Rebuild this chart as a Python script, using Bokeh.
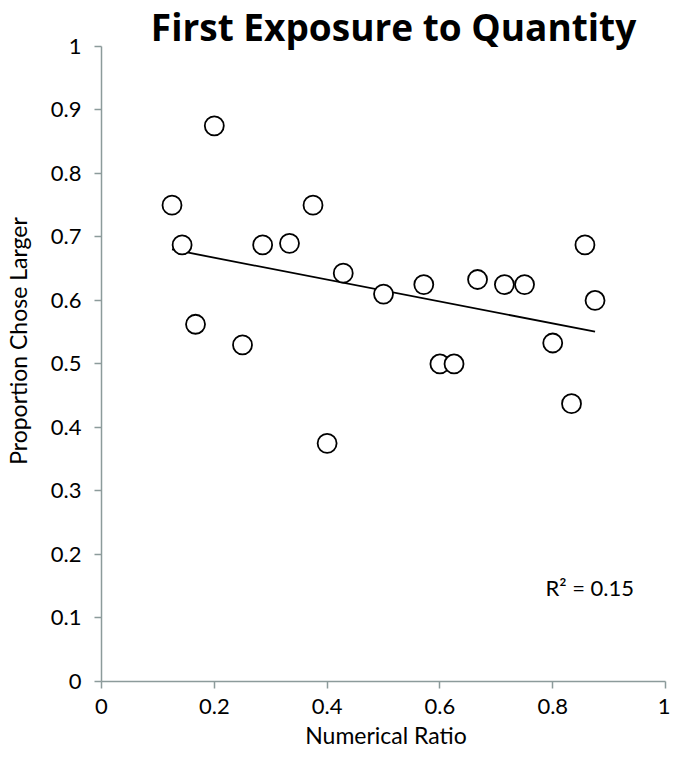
import numpy as np
from bokeh.plotting import figure
from bokeh.models import Label, Range1d, FixedTicker, ColumnDataSource
from bokeh.embed import file_html
from bokeh.resources import INLINE

# Data
ratio = [0.125, 0.1429, 0.1667, 0.2, 0.25, 0.2857, 0.3333, 0.375, 0.4, 0.4286,
         0.5, 0.5714, 0.6, 0.625, 0.6667, 0.7143, 0.75, 0.8, 0.8333, 0.8571, 0.875]
prop_larger = [0.75, 0.6875, 0.5625, 0.875, 0.53, 0.6875, 0.69, 0.75, 0.375, 0.643,
               0.61, 0.625, 0.5, 0.5, 0.633, 0.625, 0.625, 0.533, 0.4375, 0.6875, 0.6]
x_ticks = [0, 0.2, 0.4, 0.6, 0.8, 1]
x_tick_labels = ["0", "0.2", "0.4", "0.6", "0.8", "1"]
y_ticks = [0, 0.1, 0.2, 0.3, 0.4, 0.5, 0.6, 0.7, 0.8, 0.9, 1]
y_tick_labels = ["0", "0.1", "0.2", "0.3", "0.4", "0.5", "0.6", "0.7", "0.8", "0.9", "1"]
title_text = "First Exposure to Quantity"
r2_text = "R\u00b2 = 0.15"

FONT = "Lato"
AXIS_COLOR = "#8c9b9b"

W, H = 670, 751
LEFT, BOTTOM = 96, 69
TOP_PAD = 46      # pixels between frame top and y = 1 (room for the title)
RIGHT_PAD = 5     # pixels between x = 1 and frame right edge
frame_w = W - LEFT
frame_h = H - BOTTOM
px_per_y = frame_h - TOP_PAD
x_end = 1 + RIGHT_PAD / (frame_w - RIGHT_PAD)
y_end = 1 + TOP_PAD / px_per_y

p = figure(width=W, height=H, output_backend="svg", toolbar_location=None, title=None,
           x_range=Range1d(0, x_end), y_range=Range1d(0, y_end),
           min_border_left=LEFT, min_border_right=0, min_border_top=0,
           min_border_bottom=BOTTOM)
p.outline_line_color = None
p.xgrid.visible = False
p.ygrid.visible = False
p.background_fill_color = "white"

# Trend line from least squares fit of the data
slope, intercept = np.polyfit(ratio, prop_larger, 1)
xl = [min(ratio), max(ratio)]
yl = [slope * v + intercept for v in xl]
p.line(xl, yl, line_color="black", line_width=1.8)

src = ColumnDataSource(dict(x=ratio, y=prop_larger))
p.scatter("x", "y", source=src, size=19, marker="circle", fill_color="white",
          line_color="black", line_width=1.8)

for ax, ticks, labels in ((p.xaxis[0], x_ticks, x_tick_labels), (p.yaxis[0], y_ticks, y_tick_labels)):
    ax.ticker = FixedTicker(ticks=ticks)
    ax.bounds = (0, 1)
    ax.major_label_overrides = {t: l for t, l in zip(ticks, labels)}
    ax.minor_tick_line_color = None
    ax.axis_line_color = AXIS_COLOR
    ax.axis_line_width = 1.5
    ax.major_tick_line_color = AXIS_COLOR
    ax.major_tick_line_width = 1.5
    ax.major_tick_out = 7
    ax.major_tick_in = 0
    ax.major_label_text_font = FONT
    ax.major_label_text_font_size = "22px"
    ax.major_label_text_color = "black"
    ax.axis_label_text_font = FONT
    ax.axis_label_text_font_size = "23px"
    ax.axis_label_text_font_style = "normal"
    ax.axis_label_text_color = "black"

p.xaxis.axis_label = "Numerical Ratio"
p.yaxis.axis_label = "Proportion Chose Larger"
p.xaxis.major_label_standoff = 10
p.yaxis.major_label_standoff = 13
p.xaxis.axis_label_standoff = 4
p.yaxis.axis_label_standoff = 16

p.add_layout(Label(x=0.5, y=1 + 20 / px_per_y, x_offset=10, text=title_text,
                   text_align="center", text_baseline="middle", text_font="Open Sans",
                   text_font_style="bold", text_font_size="37px", text_color="black"))
p.add_layout(Label(x=0.787, y=0.148, text=r2_text, text_align="left",
                   text_baseline="middle", text_font=FONT,
                   text_font_size="22px", text_color="black"))

open("out.html", "w").write(file_html(p, INLINE))
